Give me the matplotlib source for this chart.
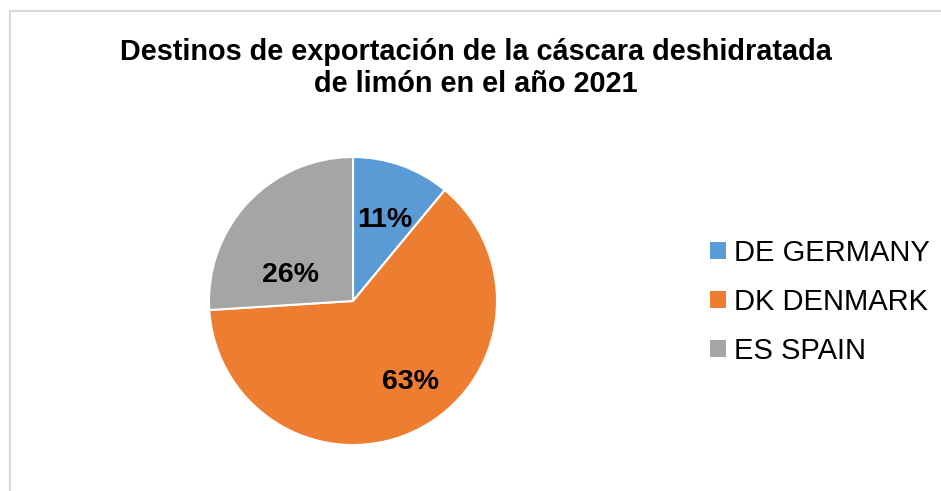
import matplotlib
matplotlib.use('Agg')
import matplotlib.pyplot as plt
from matplotlib.patches import Rectangle, Patch

plt.rcParams['font.family'] = ['Liberation Sans', 'DejaVu Sans']

title = 'Destinos de exportación de la cáscara deshidratada\nde limón en el año 2021'
countries = ['DE GERMANY', 'DK DENMARK', 'ES SPAIN']
shares = [11, 63, 26]  # percent
colors = ['#5B9BD5', '#ED7D31', '#A5A5A5']

W, H = 941, 491
fig = plt.figure(figsize=(W / 100, H / 100), dpi=100)

# chart frame (only left/top edges visible in the crop)
fig.patches.append(Rectangle((9.5 / W, -0.2), 1.2, 1.2 - 11 / H, transform=fig.transFigure,
                             fill=False, edgecolor='#D9D9D9', linewidth=1.5))

fig.text(476 / W, 1 - 68 / H, title, ha='center', va='center', fontsize=20.8,
         fontweight='bold', linespacing=1.22)

# pie: centre (353, 301), radius 144 px
cx, cy, r = 353, 301, 144
ax = fig.add_axes([(cx - r) / W, (H - cy - r) / H, 2 * r / W, 2 * r / H])
wedges, texts, autotexts = ax.pie(shares, colors=colors, startangle=90, counterclock=False,
                                  autopct='%d%%', pctdistance=0.6,
                                  wedgeprops=dict(edgecolor='white', linewidth=1.5),
                                  textprops=dict(fontsize=20.5, fontweight='bold', color='black'))
ax.set_xlim(-1, 1)
ax.set_ylim(-1, 1)
ax.set_aspect('equal')

# nudge labels the way Excel placed them
nudges = [(0.02, 0.0), (0.13, -0.03), (0.0, -0.23)]
for t, (dx, dy) in zip(autotexts, nudges):
    x, y = t.get_position()
    t.set_position((x + dx, y + dy))

handles = [Patch(facecolor=c, edgecolor='none') for c in colors]
fig.legend(handles, countries, loc='center left', bbox_to_anchor=(698 / W, 1 - 302 / H),
           frameon=False, fontsize=21, handlelength=0.55, handleheight=0.55,
           handletextpad=0.3, labelspacing=0.72, borderaxespad=0)

fig.savefig('out.png', dpi=100)
